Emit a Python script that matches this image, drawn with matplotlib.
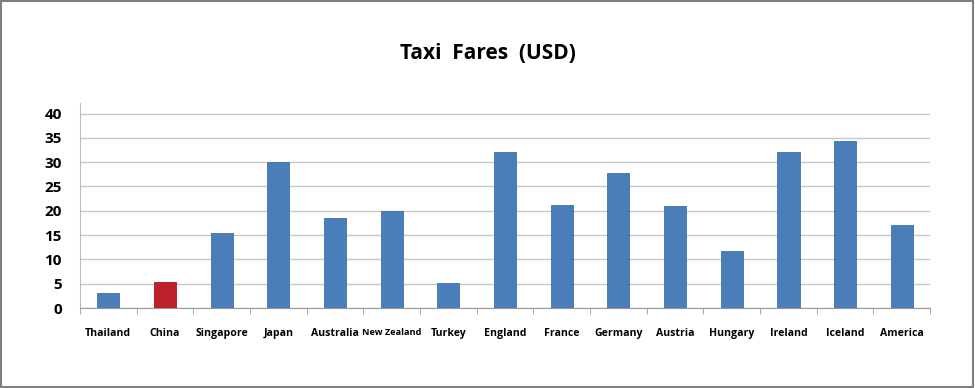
import numpy as np
import matplotlib
matplotlib.use("Agg")
import matplotlib.pyplot as plt
from matplotlib.patches import Rectangle

# Chart data
COUNTRIES = ["Thailand", "China", "Singapore", "Japan", "Australia", "New Zealand",
             "Turkey", "England", "France", "Germany", "Austria", "Hungary",
             "Ireland", "Iceland", "America"]
FARES = [3.0, 5.4, 15.4, 30.0, 18.6, 20.0, 5.1, 32.1, 21.1, 27.8, 21.0, 11.8, 32.0, 34.4, 17.1]
HIGHLIGHT = "China"
Y_TICKS = [0, 5, 10, 15, 20, 25, 30, 35, 40]

BLUE = "#4A7EBB"
RED = "#C0202A"

plt.rcParams["font.family"] = ["Open Sans", "DejaVu Sans"]

fig = plt.figure(figsize=(9.75, 3.88), dpi=100)
ax = fig.add_axes([0.082, 0.206, 0.872, 0.529])

x = np.arange(len(COUNTRIES))
colors = [RED if c == HIGHLIGHT else BLUE for c in COUNTRIES]
edges = ["#A01820" if c == HIGHLIGHT else "#3F70AA" for c in COUNTRIES]
ax.bar(x, FARES, width=0.39, color=colors, edgecolor=edges, linewidth=0.6, zorder=3)

ax.set_xlim(-0.5, len(COUNTRIES) - 0.5)
ax.set_ylim(0, 42.2)
ax.set_yticks(Y_TICKS)
ax.set_yticklabels([str(v) for v in Y_TICKS], fontsize=11, fontweight="bold")
ax.set_xticks(x)
labels = ax.set_xticklabels(COUNTRIES, fontsize=7.6, fontweight="bold")
for lab in labels:
    if len(lab.get_text()) > 9:
        lab.set_fontsize(6.6)
ax.set_xticks(np.arange(-0.5, len(COUNTRIES)), minor=True)
ax.tick_params(axis="x", which="major", length=0, pad=14)
ax.tick_params(axis="x", which="minor", length=4, color="#999999", direction="out")
ax.tick_params(axis="y", length=0, pad=13)

ax.grid(axis="y", color="#C8C8C8", linewidth=1, zorder=0)
for s in ["top", "right"]:
    ax.spines[s].set_visible(False)
ax.spines["left"].set_color("#BBBBBB")
ax.spines["bottom"].set_color("#999999")

fig.text(0.5, 0.862, "Taxi  Fares  (USD)", ha="center", va="center",
         fontsize=15, fontweight="bold")

# outer frame
fig.patches.append(Rectangle((0.001, 0.002), 0.997, 0.995, transform=fig.transFigure,
                             fill=False, edgecolor="#808080", linewidth=1.5))

fig.savefig("out.png", dpi=100)
